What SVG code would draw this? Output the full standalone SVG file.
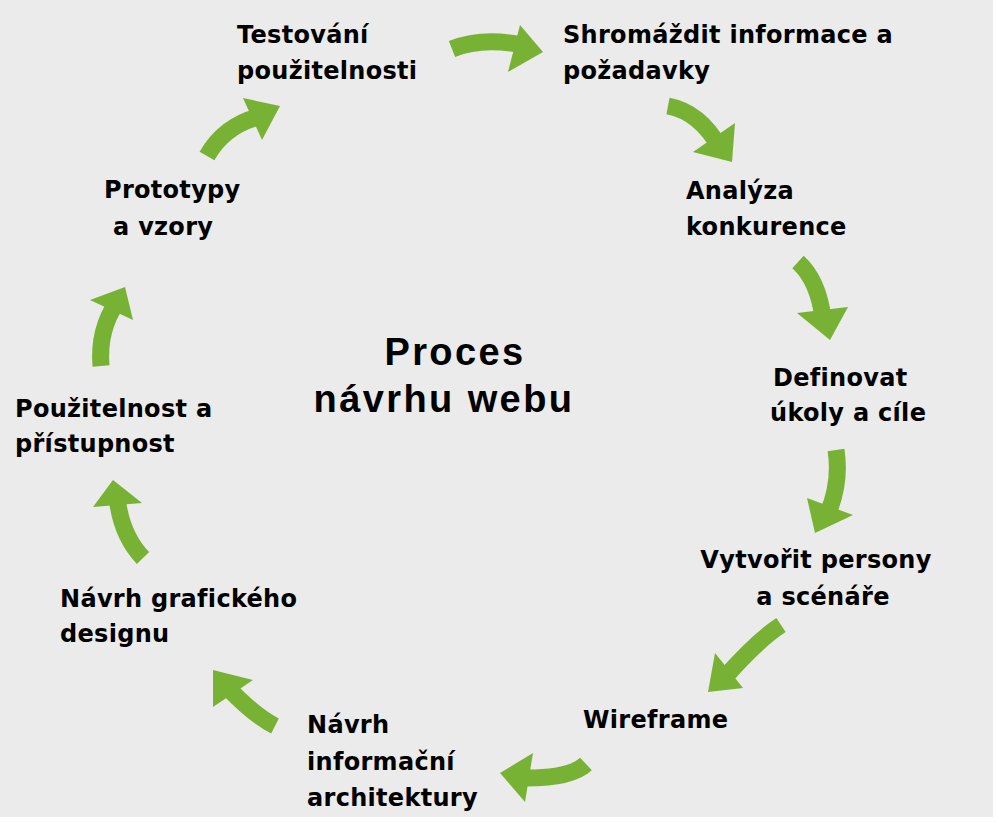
<svg xmlns="http://www.w3.org/2000/svg" width="998" height="823" viewBox="0 0 998 823">
<style>
.lbl{font-family:"DejaVu Sans",Verdana,sans-serif;font-weight:bold;font-size:24px;letter-spacing:0.3px;fill:#000;}
.title{font-family:"Liberation Sans",Arial,sans-serif;font-weight:bold;font-size:38px;letter-spacing:2.4px;fill:#000;}
.shaft{fill:none;stroke:#78b234;stroke-width:17;stroke-linecap:butt;}
.head{fill:#78b234;stroke:none;}
</style>
<rect x="0" y="0" width="998" height="823" fill="#ffffff"/>
<rect x="0" y="0" width="993" height="817" fill="#ebebeb"/>
<g id="connectors">
  <g id="a1"><path class="shaft" d="M452,49 Q482,37 522,45"/><polygon class="head" points="520,25 543,52 508,72"/></g>
  <g id="a2"><path class="shaft" d="M668,106 Q700,112 720,148"/><polygon class="head" points="735,123 732,162 693,152"/></g>
  <g id="a3"><path class="shaft" d="M798,262 Q818,280 823,318"/><polygon class="head" points="797,313 848,307 830,340"/></g>
  <g id="a4"><path class="shaft" d="M836,450 Q841,482 828,513"/><polygon class="head" points="807,498 853,515 815,533"/></g>
  <g id="a5"><path class="shaft" d="M781,625 Q758,640 726,676"/><polygon class="head" points="715,653 743,688 708,692"/></g>
  <g id="a6"><path class="shaft" d="M586,764 Q570,779 520,778"/><polygon class="head" points="533,753 500,773 525,802"/></g>
  <g id="a7"><path class="shaft" d="M275,726 Q255,716 228,688"/><polygon class="head" points="213,670 253,680 213,707"/></g>
  <g id="a8"><path class="shaft" d="M143,558 Q121,535 117,497"/><polygon class="head" points="113,480 93,507 142,503"/></g>
  <g id="a9"><path class="shaft" d="M101,366 Q98,330 117,302"/><polygon class="head" points="125,287 90,300 133,320"/></g>
  <g id="a10"><path class="shaft" d="M207,156 Q224,126 258,117"/><polygon class="head" points="243,98 280,106 262,140"/></g>
</g>
<g id="center"><text class="title" x="455" y="365" text-anchor="middle">Proces</text><text class="title" x="444" y="412" text-anchor="middle">návrhu webu</text></g>
<g id="n1"><text class="lbl" x="237" y="43">Testování</text><text class="lbl" x="237" y="79">použitelnosti</text></g>
<g id="n2"><text class="lbl" x="563" y="43">Shromáždit informace a</text><text class="lbl" x="563" y="79">požadavky</text></g>
<g id="n3"><text class="lbl" x="686" y="199">Analýza</text><text class="lbl" x="686" y="235">konkurence</text></g>
<g id="n4"><text class="lbl" x="773" y="386">Definovat</text><text class="lbl" x="770" y="421">úkoly a cíle</text></g>
<g id="n5"><text class="lbl" x="816" y="568" text-anchor="middle">Vytvořit persony</text><text class="lbl" x="823" y="605" text-anchor="middle">a scénáře</text></g>
<g id="n6"><text class="lbl" x="583" y="728">Wireframe</text></g>
<g id="n7"><text class="lbl" x="307" y="733">Návrh</text><text class="lbl" x="307" y="770">informační</text><text class="lbl" x="307" y="806">architektury</text></g>
<g id="n8"><text class="lbl" x="60" y="607">Návrh grafického</text><text class="lbl" x="60" y="642">designu</text></g>
<g id="n9"><text class="lbl" x="15" y="417">Použitelnost a</text><text class="lbl" x="15" y="452">přístupnost</text></g>
<g id="n10"><text class="lbl" x="104" y="198">Prototypy</text><text class="lbl" x="113" y="235">a vzory</text></g>
</svg>
